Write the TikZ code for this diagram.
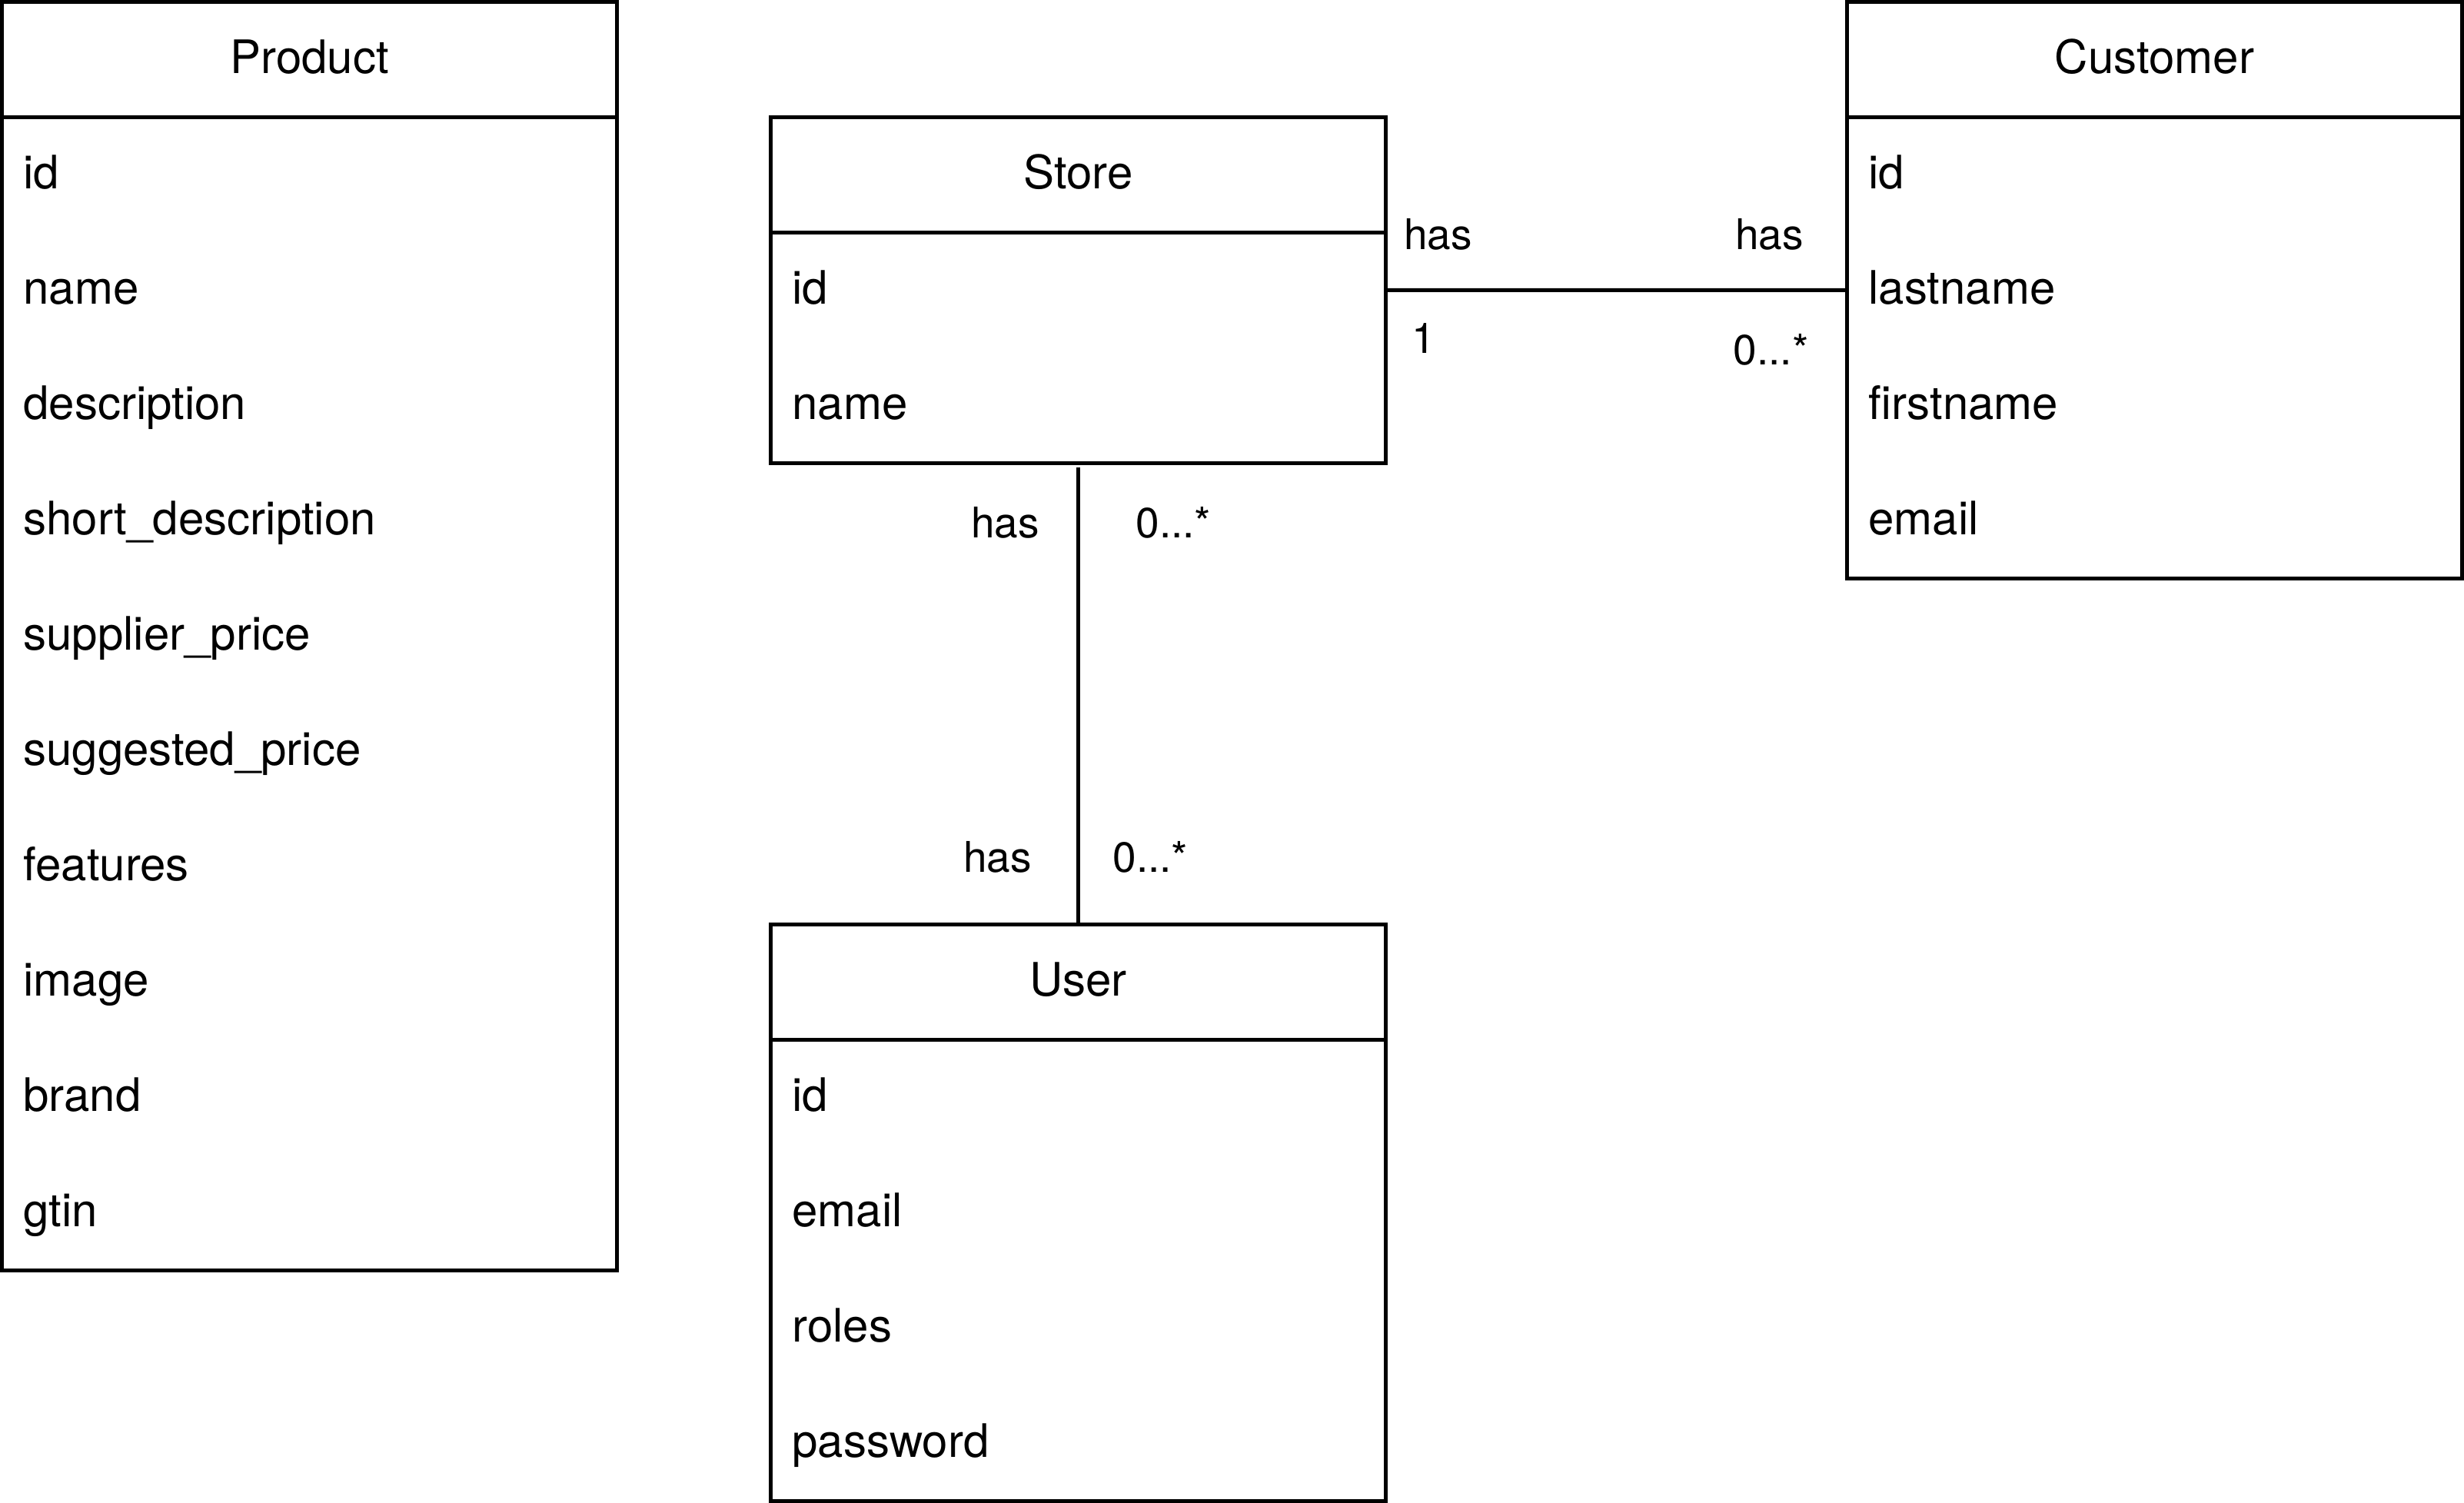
\documentclass[tikz,border=0pt]{standalone}
\usepackage{fontspec}
\setmainfont{TeX Gyre Heros}
\usetikzlibrary{positioning,fit}

\tikzset{
  classhead/.style={draw, minimum width=391.36pt, minimum height=73.38pt, inner sep=0pt, outer sep=0pt,
    font=\fontsize{29.35}{35}\selectfont, text height=24.6pt, text depth=6.75pt},
  attr/.style={minimum height=73.38pt, text width=364pt, inner xsep=13.68pt, inner ysep=0pt, outer sep=0pt,
    align=left, font=\fontsize{29.35}{35}\selectfont, text height=24.6pt, text depth=6.75pt},
  classbody/.style={draw, inner sep=0pt, outer sep=0pt},
  mult/.style={inner sep=0pt, outer sep=0pt, font=\fontsize{26.9}{32}\selectfont, text height=20.7pt, text depth=6.2pt}
}

\begin{document}
\begin{tikzpicture}[x=2.446pt, y=2.446pt, line width=2.446pt]
\useasboundingbox (-0.5,0.5) rectangle (640.5,-390.5);
   \node[classhead](product) at (80,-15){Product};
   \foreach \txt [count=\i] in {id,name,description,short\_description,supplier\_price,suggested\_price,features,image,brand,gtin}
      \node[attr, below=0pt of product, yshift={-(\i-1)*73.38pt}](product-\i){\txt};
   \node[classbody, fit=(product-1)(product-10)](productbody){};

   \node[classhead](store) at (280,-45){Store};
   \foreach \txt [count=\i] in {id,name}
      \node[attr, below=0pt of store, yshift={-(\i-1)*73.38pt}](store-\i){\txt};
   \node[classbody, fit=(store-1)(store-2)](storebody){};

   \node[classhead](customer) at (560,-15){Customer};
   \foreach \txt [count=\i] in {id,lastname,firstname,email}
      \node[attr, below=0pt of customer, yshift={-(\i-1)*73.38pt}](customer-\i){\txt};
   \node[classbody, fit=(customer-1)(customer-4)](customerbody){};

   \node[classhead](user) at (280,-255){User};
   \foreach \txt [count=\i] in {id,email,roles,password}
      \node[attr, below=0pt of user, yshift={-(\i-1)*73.38pt}](user-\i){\txt};
   \node[classbody, fit=(user-1)(user-4)](userbody){};

   \draw (store-1.east) -- (customer-2.west)
      node[mult, pos=0, anchor=west, shift={(4.7,13.5)}](sc-has){has}
      node[mult, pos=0, anchor=west, shift={(6.8,-13.5)}](sc-one){1}
      node[mult, pos=1, anchor=east, shift={(-11.3,13.5)}](cs-has){has}
      node[mult, pos=1, anchor=east, shift={(-10,-16.5)}](cs-many){0...*};
   \draw ([yshift=-2.446pt]storebody.south) -- (user.north)
      node[mult, pos=0, anchor=east, shift={(-10.1,-15.5)}](su-has){has}
      node[mult, pos=0, anchor=west, shift={(15,-15.5)}](su-many){0...*}
      node[mult, pos=1, anchor=east, shift={(-12.1,16.5)}](us-has){has}
      node[mult, pos=1, anchor=west, shift={(9,16.5)}](us-many){0...*};
\end{tikzpicture}
\end{document}
